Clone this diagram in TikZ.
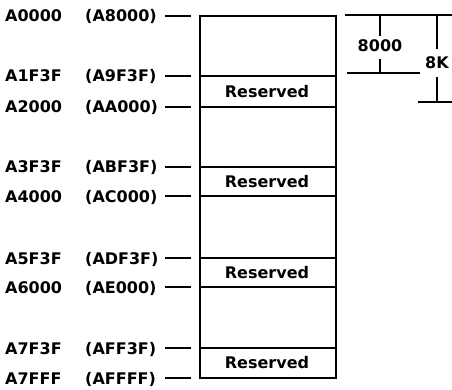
\documentclass[tikz,border=0pt]{standalone}
\usepackage{fontspec}
\setmainfont{DejaVu Sans}
\usetikzlibrary{positioning,calc}

\begin{document}
\begin{tikzpicture}[
    x=1pt, y=-1pt,
    addr/.style={anchor=base west, inner sep=0pt, font=\fontsize{16}{18}\selectfont\bfseries},
    cell/.style={inner sep=0pt, font=\fontsize{16}{18}\selectfont\bfseries},
    dim/.style={inner sep=4pt, font=\fontsize{16}{18}\selectfont\bfseries},
    wall/.style={line width=2pt},
    tick/.style={line width=1.3pt},
  ]
  \useasboundingbox (0,0) rectangle (452,390);

  % Memory block
  \draw[wall] (200,16) rectangle (336,378);
  \foreach \y in {76,107,167,196,258,287,348}
    \draw[wall] (200,\y) -- (336,\y);

  % Addresses
  \foreach \y/\lo/\hi [count=\i] in {16/A0000/A8000, 76/A1F3F/A9F3F, 107/A2000/AA000,
      167/A3F3F/ABF3F, 196/A4000/AC000, 258/A5F3F/ADF3F, 287/A6000/AE000,
      348/A7F3F/AFF3F, 378/A7FFF/AFFFF} {
    \node[addr] (lo\i) at (5,\y+6) {\lo};
    \node[addr] (hi\i) at (85,\y+6) {(\hi)};
    \coordinate (m\i) at (200,\y);
    \draw[tick] ([xshift=-35pt]m\i) -- ([xshift=-9pt]m\i);
  }

  % Reserved areas
  \foreach \t/\b [count=\i] in {76/107, 167/196, 258/287, 348/378}
    \node[cell] (rsv\i) at (267,{(\t+\b)/2}) {Reserved};

  % Size marks
  \coordinate (top) at (345,15);
  \coordinate (topr) at (452,15);
  \draw[tick] (top) -- (topr);

  \node[dim] (d8000) at (380,46) {8000};
  \coordinate (b8000l) at (347,73);
  \coordinate (b8000r) at (420,73);
  \draw[tick] (b8000l) -- (b8000r);
  \draw[tick] (d8000.north |- top) -- (d8000.north);
  \draw[tick] ([yshift=-3pt]d8000.south) -- (d8000.south |- b8000l);

  \node[dim, inner sep=8pt] (d8k) at (437,63) {8K};
  \coordinate (b8kl) at (418,102);
  \coordinate (b8kr) at (452,102);
  \draw[tick] (b8kl) -- (b8kr);
  \draw[tick] (d8k.north |- top) -- (d8k.north);
  \draw[tick] (d8k.south) -- (d8k.south |- b8kl);
\end{tikzpicture}
\end{document}
